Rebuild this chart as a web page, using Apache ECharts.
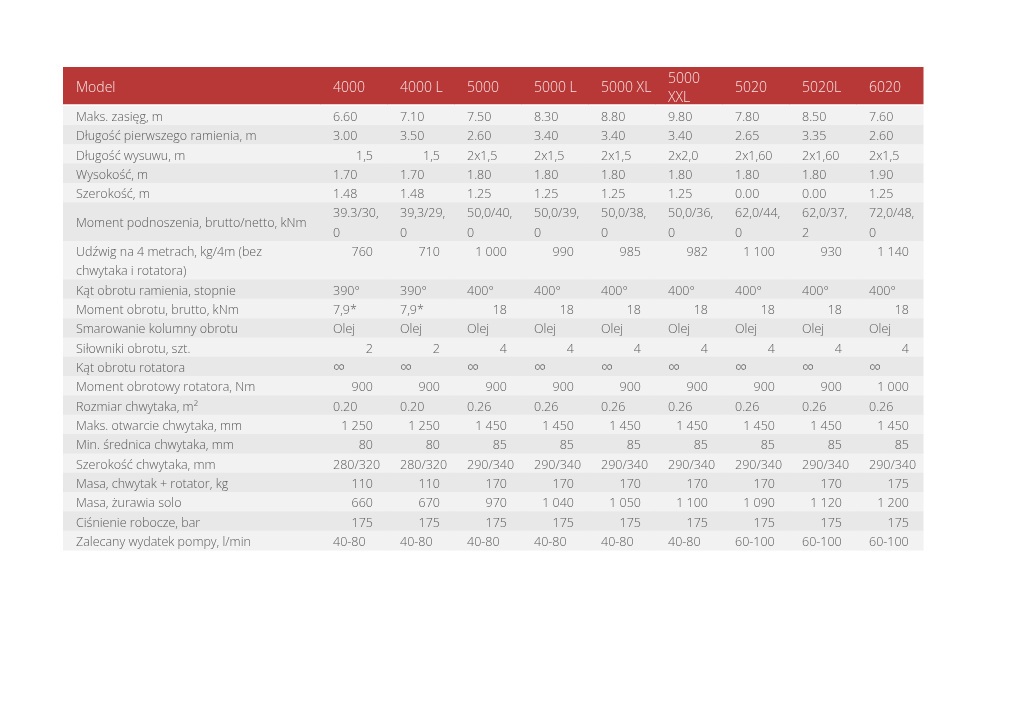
<!DOCTYPE html>
<html>
<head>
<meta charset="utf-8">
<script src="https://cdn.jsdelivr.net/npm/echarts@6/dist/echarts.min.js"></script>
<style>
  html, body { margin: 0; padding: 0; background: #fff; }
  #chart { width: 1024px; height: 725px; }
</style>
</head>
<body>
<div id="chart"></div>
<script>
  // naglowki kolumn (modele)
  var headerLabel = 'Model';
  var models = ['4000', '4000 L', '5000', '5000 L', '5000 XL', '5000\nXXL', '5020', '5020L', '6020'];

  // opisy wierszy
  var params = [
    'Maks. zasięg, m',
    'Długość pierwszego ramienia, m',
    'Długość wysuwu, m',
    'Wysokość, m',
    'Szerokość, m',
    'Moment podnoszenia, brutto/netto, kNm',
    'Udźwig na 4 metrach, kg/4m (bez\nchwytaka i rotatora)',
    'Kąt obrotu ramienia, stopnie',
    'Moment obrotu, brutto, kNm',
    'Smarowanie kolumny obrotu',
    'Siłowniki obrotu, szt.',
    'Kąt obrotu rotatora',
    'Moment obrotowy rotatora, Nm',
    'Rozmiar chwytaka, m²',
    'Maks. otwarcie chwytaka, mm',
    'Min. średnica chwytaka, mm',
    'Szerokość chwytaka, mm',
    'Masa, chwytak + rotator, kg',
    'Masa, żurawia solo',
    'Ciśnienie robocze, bar',
    'Zalecany wydatek pompy, l/min'
  ];

  // wartosci, jeden wiersz = jeden parametr, kolejnosc jak models
  var zasieg    = ['6.60', '7.10', '7.50', '8.30', '8.80', '9.80', '7.80', '8.50', '7.60'];
  var ramie     = ['3.00', '3.50', '2.60', '3.40', '3.40', '3.40', '2.65', '3.35', '2.60'];
  var wysuw     = ['1,5', '1,5', '2x1,5', '2x1,5', '2x1,5', '2x2,0', '2x1,60', '2x1,60', '2x1,5'];
  var wysokosc  = ['1.70', '1.70', '1.80', '1.80', '1.80', '1.80', '1.80', '1.80', '1.90'];
  var szerokosc = ['1.48', '1.48', '1.25', '1.25', '1.25', '1.25', '0.00', '0.00', '1.25'];
  var moment    = ['39.3/30,\n0', '39,3/29,\n0', '50,0/40,\n0', '50,0/39,\n0', '50,0/38,\n0',
                   '50,0/36,\n0', '62,0/44,\n0', '62,0/37,\n2', '72,0/48,\n0'];
  var udzwig    = ['760', '710', '1 000', '990', '985', '982', '1 100', '930', '1 140'];
  var katRamie  = ['390°', '390°', '400°', '400°', '400°', '400°', '400°', '400°', '400°'];
  var momObrotu = ['7,9*', '7,9*', '18', '18', '18', '18', '18', '18', '18'];
  var smar      = ['Olej', 'Olej', 'Olej', 'Olej', 'Olej', 'Olej', 'Olej', 'Olej', 'Olej'];
  var silowniki = ['2', '2', '4', '4', '4', '4', '4', '4', '4'];
  var katRot    = ['∞', '∞', '∞', '∞', '∞', '∞', '∞', '∞', '∞'];
  var momRot    = ['900', '900', '900', '900', '900', '900', '900', '900', '1 000'];
  var rozmiar   = ['0.20', '0.20', '0.26', '0.26', '0.26', '0.26', '0.26', '0.26', '0.26'];
  var otwarcie  = ['1 250', '1 250', '1 450', '1 450', '1 450', '1 450', '1 450', '1 450', '1 450'];
  var srednica  = ['80', '80', '85', '85', '85', '85', '85', '85', '85'];
  var szerChw   = ['280/320', '280/320', '290/340', '290/340', '290/340', '290/340', '290/340', '290/340', '290/340'];
  var masaChw   = ['110', '110', '170', '170', '170', '170', '170', '170', '175'];
  var masaSolo  = ['660', '670', '970', '1 040', '1 050', '1 100', '1 090', '1 120', '1 200'];
  var cisnienie = ['175', '175', '175', '175', '175', '175', '175', '175', '175'];
  var pompa     = ['40-80', '40-80', '40-80', '40-80', '40-80', '40-80', '60-100', '60-100', '60-100'];

  var values = [zasieg, ramie, wysuw, wysokosc, szerokosc, moment, udzwig, katRamie, momObrotu,
    smar, silowniki, katRot, momRot, rozmiar, otwarcie, srednica, szerChw, masaChw, masaSolo,
    cisnienie, pompa];

  // uklad: wysokosc wierszy w jednostkach (naglowek = 2)
  var headerSpan = 2;
  var rowSpans = [1, 1, 1, 1, 1, 2, 2, 1, 1, 1, 1, 1, 1, 1, 1, 1, 1, 1, 1, 1, 1];
  var topAlignedRows = [6]; // wartosci Udźwig stoja w gornej linii

  var RED = '#b83737', LIGHT = '#f2f2f2', DARK = '#e8e8e8';
  var TXT = '#595959', HEAD_TXT = '#f7e6e6';
  var FONT = '"Open Sans", sans-serif';
  var PAD = 13, TXT_SHIFT = 2;

  var totalUnits = headerSpan;
  rowSpans.forEach(function (s) { totalUnits += s; });

  // komorki: [kolumna, y0, y1] + tekst osobno
  var labelCells = [], dataCells = [];
  labelCells.push({ v: [0, 0, headerSpan], text: headerLabel, row: -1 });
  models.forEach(function (m, c) {
    dataCells.push({ v: [c, 0, headerSpan], text: m, row: -1 });
  });
  var y = headerSpan;
  params.forEach(function (p, r) {
    var y1 = y + rowSpans[r];
    labelCells.push({ v: [0, y, y1], text: p, row: r });
    values[r].forEach(function (val, c) {
      dataCells.push({ v: [c, y, y1], text: val, row: r });
    });
    y = y1;
  });

  function makeRender(cells, isData) {
    return function (prm, api) {
      var cell = cells[prm.dataIndex];
      var x = api.value(0);
      var p0 = api.coord([x, api.value(1)]);
      var p1 = api.coord([x, api.value(2)]);
      var w = api.size([1, 0])[0];
      var unitH = api.size([0, 1])[1];
      var left = p0[0] - w / 2;
      var header = cell.row < 0;
      var h = p1[1] - p0[1];
      var fill = header ? RED : (cell.row % 2 === 0 ? LIGHT : DARK);

      var numeric = isData && !header && /^[\d\s,]+$/.test(cell.text);
      var lines = cell.text.split('\n').length;
      var top = !header && lines === 1 && topAlignedRows.indexOf(cell.row) >= 0;
      // znak nieskonczonosci w Open Sans jest drobny, troche go powiekszamy
      var size = header ? 14 : (cell.text === '∞' ? 17 : 12.5);

      return {
        type: 'group',
        children: [{
          type: 'rect',
          shape: { x: left, y: p0[1], width: w + 0.5, height: header ? h - 1.5 : h + 0.5 },
          style: { fill: fill },
          silent: true
        }, {
          type: 'text',
          style: {
            text: cell.text,
            x: numeric ? left + w - PAD - 1 : left + PAD,
            y: (top ? p0[1] : p0[1] + h / 2) + TXT_SHIFT,
            align: numeric ? 'right' : 'left',
            verticalAlign: top ? 'top' : 'middle',
            lineHeight: unitH,
            fill: header ? HEAD_TXT : TXT,
            font: '300 ' + size + 'px ' + FONT
          },
          silent: true
        }]
      };
    };
  }

  var gridTop = 67, gridH = 483;
  var chart = echarts.init(document.getElementById('chart'));
  chart.setOption({
    animation: false,
    backgroundColor: '#fff',
    grid: [
      { left: 63, top: gridTop, width: 257, height: gridH },
      { left: 320, top: gridTop, width: 603, height: gridH }
    ],
    xAxis: [
      { type: 'category', gridIndex: 0, data: [headerLabel], show: false },
      { type: 'category', gridIndex: 1, data: models, show: false }
    ],
    yAxis: [
      { type: 'value', gridIndex: 0, min: 0, max: totalUnits, inverse: true, show: false },
      { type: 'value', gridIndex: 1, min: 0, max: totalUnits, inverse: true, show: false }
    ],
    series: [{
      type: 'custom',
      xAxisIndex: 0,
      yAxisIndex: 0,
      renderItem: makeRender(labelCells, false),
      data: labelCells.map(function (c) { return c.v; })
    }, {
      type: 'custom',
      xAxisIndex: 1,
      yAxisIndex: 1,
      renderItem: makeRender(dataCells, true),
      data: dataCells.map(function (c) { return c.v; })
    }]
  });
</script>
</body>
</html>
